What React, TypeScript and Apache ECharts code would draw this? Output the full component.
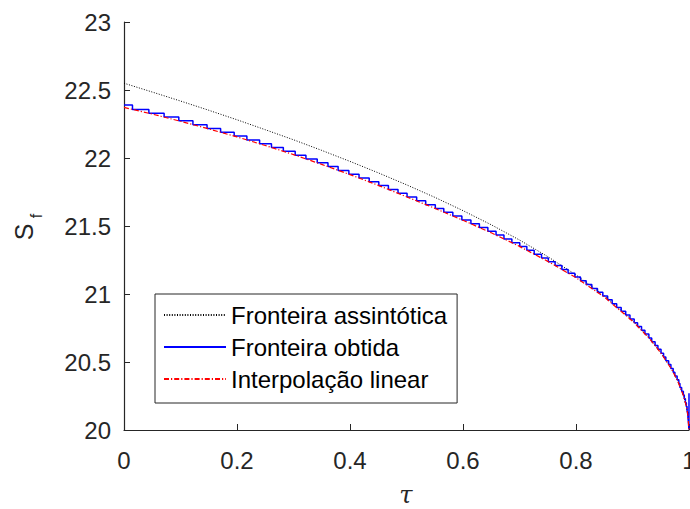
import React, { useEffect, useRef } from "react";
import * as echarts from "echarts";

// tau positions and S values
const asymTau = [0, 0.05, 0.1, 0.15, 0.2, 0.25, 0.3, 0.35, 0.4, 0.45, 0.5, 0.55, 0.6, 0.65, 0.7, 0.75, 0.8, 0.85, 0.9, 0.93, 0.95, 0.97, 0.98, 0.99, 0.995, 0.998, 1];
const asymS = [22.55, 22.485, 22.419, 22.351, 22.281, 22.208, 22.134, 22.056, 21.975, 21.891, 21.803, 21.711, 21.613, 21.509, 21.397, 21.275, 21.14, 20.988, 20.806, 20.675, 20.57, 20.442, 20.361, 20.255, 20.18, 20.114, 20.0];

const interpTau = [0, 0.05, 0.1, 0.15, 0.2, 0.25, 0.3, 0.35, 0.4, 0.45, 0.5, 0.55, 0.6, 0.65, 0.7, 0.75, 0.8, 0.85, 0.9, 0.93, 0.95, 0.97, 0.98, 0.99, 0.995, 0.998, 1];
const interpS = [22.372, 22.323, 22.27, 22.214, 22.155, 22.092, 22.025, 21.953, 21.878, 21.799, 21.715, 21.63, 21.542, 21.45, 21.35, 21.24, 21.12, 20.978, 20.801, 20.672, 20.568, 20.441, 20.36, 20.254, 20.18, 20.113, 20.0];

const stepTau = [0, 0.015, 0.044, 0.071, 0.097, 0.122, 0.147, 0.171, 0.195, 0.2175, 0.24, 0.261, 0.282, 0.303, 0.322, 0.342, 0.361, 0.379, 0.398, 0.416, 0.434, 0.451, 0.468, 0.485, 0.501, 0.518, 0.534, 0.551, 0.566, 0.582, 0.598, 0.614, 0.629, 0.644, 0.6585, 0.6725, 0.6865, 0.7005, 0.713, 0.726, 0.739, 0.751, 0.763, 0.775, 0.786, 0.798, 0.808, 0.818, 0.828, 0.838, 0.8475, 0.856, 0.864, 0.872, 0.88, 0.888, 0.8955, 0.903, 0.909, 0.916, 0.922, 0.929, 0.934, 0.94, 0.945, 0.9505, 0.955, 0.959, 0.964, 0.968, 0.972, 0.975, 0.979, 0.982, 0.984, 0.987, 0.99, 0.9917, 0.9936, 0.9953, 0.9966, 0.9978, 0.9984, 0.9989, 0.9994, 0.9999, 1];
const stepS = [22.39, 22.357, 22.329, 22.301, 22.273, 22.245, 22.217, 22.189, 22.161, 22.133, 22.105, 22.077, 22.049, 22.021, 21.993, 21.965, 21.937, 21.909, 21.881, 21.853, 21.825, 21.797, 21.769, 21.741, 21.713, 21.685, 21.657, 21.629, 21.601, 21.573, 21.545, 21.517, 21.489, 21.461, 21.433, 21.405, 21.377, 21.349, 21.321, 21.293, 21.265, 21.237, 21.209, 21.181, 21.153, 21.125, 21.097, 21.069, 21.041, 21.013, 20.985, 20.957, 20.929, 20.901, 20.873, 20.845, 20.817, 20.789, 20.761, 20.733, 20.705, 20.677, 20.649, 20.621, 20.593, 20.565, 20.537, 20.509, 20.481, 20.453, 20.425, 20.397, 20.369, 20.341, 20.313, 20.285, 20.257, 20.229, 20.201, 20.173, 20.145, 20.117, 20.089, 20.061, 20.033, 20.005, 20.27];

const seriesNames = ["Fronteira assintótica", "Fronteira obtida", "Interpolação linear"];

const FONT = "'Liberation Sans', Arial, Helvetica, sans-serif";
const AX = "#262626";

function pairs(xs: number[], ys: number[]) {
  return xs.map((x, i) => [x, ys[i]]);
}

export default function App() {
  const ref = useRef<HTMLDivElement>(null);
  useEffect(() => {
    if (!ref.current) return;
    const chart = echarts.init(ref.current, null, { renderer: "svg" });
    chart.setOption({
      animation: false,
      backgroundColor: "#ffffff",
      grid: { left: 124, right: 1, top: 22, bottom: 79, containLabel: false, outerBoundsMode: "none" },
      xAxis: {
        type: "value",
        min: 0,
        max: 1,
        interval: 0.2,
        axisLine: { show: true, lineStyle: { color: AX, width: 1.2 } },
        axisTick: { show: true, inside: true, length: 6, lineStyle: { color: AX, width: 1 } },
        axisLabel: { color: AX, fontSize: 24, fontFamily: FONT, margin: 18 },
        splitLine: { show: false },
      },
      yAxis: {
        type: "value",
        min: 20,
        max: 23,
        interval: 0.5,
        axisLine: { show: true, lineStyle: { color: AX, width: 1.2 } },
        axisTick: { show: true, inside: true, length: 6, lineStyle: { color: AX, width: 1 } },
        axisLabel: { color: AX, fontSize: 24, fontFamily: FONT, margin: 13 },
        splitLine: { show: false },
      },
      legend: {
        orient: "vertical",
        left: 155,
        top: 294,
        padding: [8, 10, 11, 8],
        itemWidth: 62,
        itemHeight: 14,
        itemGap: 6,
        borderColor: AX,
        borderWidth: 1,
        backgroundColor: "#ffffff",
        itemStyle: { opacity: 0, borderWidth: 0 },
        textStyle: { fontSize: 24, color: "#000", fontFamily: FONT, lineHeight: 26 },
        data: seriesNames,
      },
      graphic: [
        {
          type: "text",
          x: 24,
          y: 232,
          rotation: Math.PI / 2,
          style: { text: "S", fontSize: 25, fontFamily: FONT, fill: AX, textAlign: "center", textVerticalAlign: "middle" },
        },
        {
          type: "text",
          x: 36,
          y: 216,
          rotation: Math.PI / 2,
          style: { text: "f", fontSize: 16, fontFamily: FONT, fill: AX, textAlign: "center", textVerticalAlign: "middle" },
        },
        {
          type: "text",
          x: 406,
          y: 495,
          style: { text: "τ", fontSize: 24, fontStyle: "italic", fontFamily: "'DejaVu Serif', 'Liberation Serif', serif", fill: AX, textAlign: "center", textVerticalAlign: "middle" },
        },
      ],
      series: [
        {
          name: seriesNames[0],
          type: "line",
          data: pairs(asymTau, asymS),
          symbol: "none",
          clip: false,
          itemStyle: { color: "#000000" },
          lineStyle: { color: "#000000", width: 1, type: [1, 1.6] },
          z: 2,
        },
        {
          name: seriesNames[1],
          type: "line",
          step: "end",
          data: pairs(stepTau, stepS),
          symbol: "none",
          clip: false,
          itemStyle: { color: "#0000ff" },
          lineStyle: { color: "#0000ff", width: 1.5, type: "solid" },
          z: 3,
        },
        {
          name: seriesNames[2],
          type: "line",
          data: pairs(interpTau, interpS),
          symbol: "none",
          clip: false,
          itemStyle: { color: "#ff0000" },
          lineStyle: { color: "#ff0000", width: 1.2, type: [5, 2, 1.2, 2] },
          z: 4,
        },
      ],
    });
    return () => chart.dispose();
  }, []);
  return <div ref={ref} style={{ position: "absolute", left: 0, top: 0, width: 690, height: 509 }} />;
}
